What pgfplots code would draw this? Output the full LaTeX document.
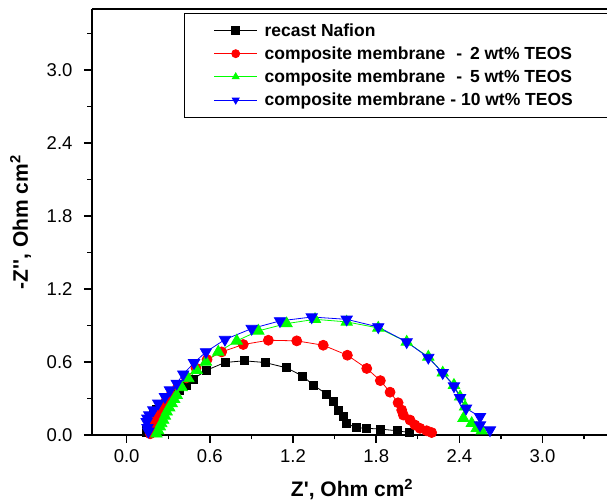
\documentclass[border=0pt]{standalone}
\usepackage{fontspec}
\setmainfont{Liberation Sans}
\usepackage{pgfplots}
\pgfplotsset{compat=1.18}
\begin{document}
\begin{tikzpicture}
\useasboundingbox (-92pt,-67pt) rectangle (515pt,435pt);
\begin{axis}[
  at={(0pt,0pt)}, anchor=south west,
  scale only axis, width=515pt, height=425.7pt,
  xmin=-0.25, xmax=3.465, ymin=0, ymax=3.5,
  axis y line*=left,
  xtick pos=left,
  axis line style={line width=2.2pt},
  tick align=outside,
  major tick length=8pt, minor tick length=4.5pt,
  every tick/.style={black, line width=1.4pt},
  xtick={0,0.6,1.2,1.8,2.4,3.0},
  minor xtick={0.3,0.9,1.5,2.1,2.7,3.3},
  ytick={0,0.6,1.2,1.8,2.4,3.0},
  minor ytick={0.3,0.9,1.5,2.1,2.7,3.3},
  /pgf/number format/assume math mode=true,
  /pgf/number format/fixed, /pgf/number format/fixed zerofill,
  /pgf/number format/precision=1,
  ticklabel style={font=\fontsize{18.5}{20}\selectfont},
  yticklabel style={xshift=-8pt},
  xticklabel style={yshift=-3pt},
  xlabel={Z\textquotesingle, Ohm cm\textsuperscript{2}},
  ylabel={-Z\textquotesingle\textquotesingle, Ohm cm\textsuperscript{2}},
  label style={font=\fontsize{21}{24}\selectfont\bfseries},
  xlabel style={at={(axis description cs:0.505,-0.1456)}, anchor=base},
  ylabel style={at={(axis description cs:-0.1243,0.5)}, anchor=base},
  legend style={at={(axis description cs:1.018,0.9913)}, anchor=north east,
    draw=black, line width=0.8pt, inner xsep=29pt, inner ysep=8pt,
    font=\fontsize{17.5}{20}\selectfont\bfseries, row sep=5pt},
  legend cell align=left,
  legend image code/.code={%
    \draw[#1,mark=none] (0pt,0pt) -- (43pt,0pt);
    \draw[#1,mark size=4pt] plot coordinates {(21.5pt,0pt)};
    \path (48pt,0pt);},
  clip=false,
]
\addplot[black, line width=0.8pt, mark=square*, mark size=4pt, mark options={solid}] table {
0.14 0.02
0.145 0.055
0.155 0.096
0.17 0.137
0.19 0.175
0.215 0.21
0.25 0.25
0.29 0.29
0.33 0.33
0.38 0.37
0.43 0.41
0.48 0.46
0.577 0.533
0.709 0.596
0.846 0.610
0.998 0.596
1.154 0.552
1.270 0.484
1.347 0.410
1.443 0.336
1.491 0.273
1.527 0.205
1.563 0.150
1.587 0.096
1.654 0.060
1.732 0.055
1.828 0.049
1.95 0.035
2.04 0.02
};
\addlegendentry{recast Nafion}
\addplot[red, line width=0.8pt, mark=*, mark size=5pt] table {
0.17 0.01
0.18 0.05
0.20 0.10
0.22 0.15
0.25 0.21
0.28 0.27
0.32 0.33
0.37 0.40
0.43 0.47
0.50 0.55
0.58 0.62
0.685 0.683
0.841 0.744
1.022 0.779
1.227 0.774
1.418 0.738
1.592 0.656
1.732 0.547
1.830 0.447
1.900 0.352
1.958 0.265
1.984 0.205
1.996 0.164
2.044 0.123
2.080 0.082
2.116 0.055
2.164 0.035
2.20 0.02
};
\addlegendentry{composite membrane \kern6pt- \kern3pt2 wt\% TEOS\hspace*{12pt}}
\addplot[green, line width=0.8pt, mark=triangle*, mark size=6.5pt] table {
0.215 0.01
0.228 0.035
0.240 0.068
0.250 0.095
0.264 0.123
0.276 0.157
0.289 0.191
0.307 0.225
0.325 0.260
0.343 0.294
0.361 0.328
0.397 0.391
0.445 0.465
0.505 0.533
0.572 0.601
0.661 0.683
0.794 0.774
0.950 0.856
1.154 0.916
1.359 0.951
1.587 0.930
1.815 0.880
2.020 0.765
2.176 0.642
2.280 0.511
2.361 0.410
2.405 0.314
2.441 0.232
2.429 0.137
2.489 0.096
2.525 0.055
2.561 0.035
};
\addlegendentry{composite membrane \kern6pt- \kern3pt5 wt\% TEOS\hspace*{12pt}}
\addplot[blue, line width=0.8pt, mark=triangle*, mark size=6.5pt, mark options={rotate=180}] table {
0.156 0.03
0.150 0.060
0.144 0.109
0.149 0.137
0.163 0.164
0.192 0.205
0.228 0.260
0.276 0.314
0.312 0.369
0.361 0.424
0.408 0.500
0.486 0.593
0.572 0.683
0.709 0.785
0.902 0.875
1.106 0.938
1.335 0.970
1.587 0.951
1.815 0.888
2.020 0.765
2.176 0.637
2.280 0.511
2.361 0.402
2.405 0.306
2.448 0.219
2.549 0.150
2.549 0.082
2.621 0.041
};
\addlegendentry{composite membrane - 10 wt\% TEOS\hspace*{12pt}}
\end{axis}
\end{tikzpicture}
\end{document}
